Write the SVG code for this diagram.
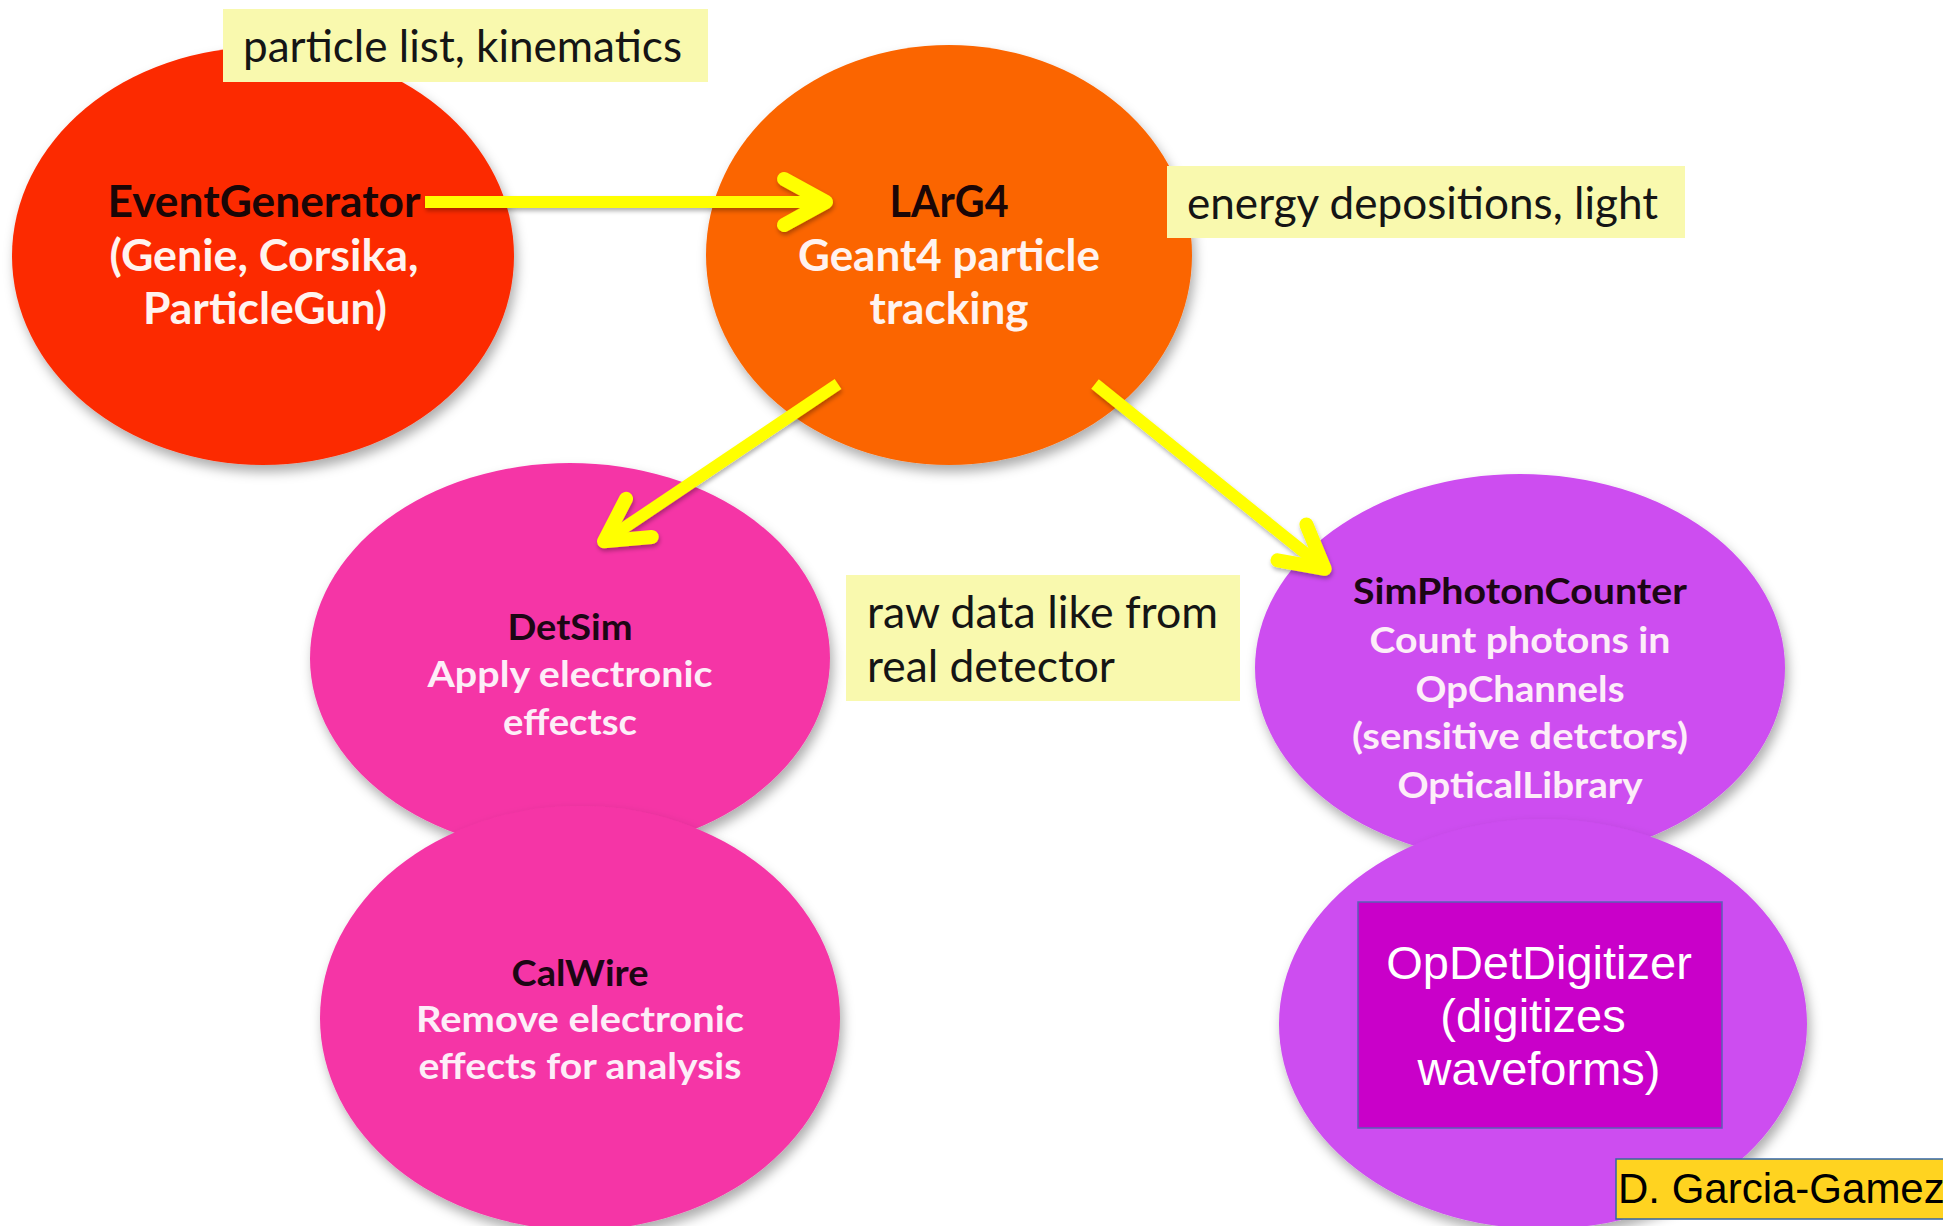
<svg xmlns="http://www.w3.org/2000/svg" width="1943" height="1226" viewBox="0 0 1943 1226">
  <defs>
    <filter id="softShadow" x="-10%" y="-10%" width="125%" height="130%">
      <feDropShadow dx="3" dy="7" stdDeviation="6" flood-color="#000" flood-opacity="0.32"/>
    </filter>
    <filter id="lineShadow" x="-10%" y="-10%" width="125%" height="130%">
      <feDropShadow dx="1" dy="3" stdDeviation="2" flood-color="#000" flood-opacity="0.3"/>
    </filter>
    <marker id="chevron" markerUnits="userSpaceOnUse" viewBox="-60 -40 80 80" refX="0" refY="0" markerWidth="80" markerHeight="80" orient="auto" overflow="visible">
      <path d="M -36 -23 L 6 0 L -36 23" fill="none" stroke="#FFFF00" stroke-width="14" stroke-linecap="round" stroke-linejoin="round"/>
    </marker>
  </defs>
  <style>
    .bubble { filter: url(#softShadow); }
    .red { fill: #FC2A02; }
    .orange { fill: #FB6503; }
    .pink { fill: #F536A6; }
    .violet { fill: #CD4DF0; }
    .note { fill: #F9F9AE; }
    .noteText { font-family: Lato, "Open Sans", sans-serif; font-size: 45px; fill: #151515; }
    .head { font-family: Lato, "Open Sans", sans-serif; font-weight: 700; font-size: 44px; fill: #1a0606; text-anchor: middle; }
    .sub { font-family: Lato, "Open Sans", sans-serif; font-weight: 700; font-size: 44px; fill: #fff3ef; text-anchor: middle; }
    .head2 { font-family: Lato, "Open Sans", sans-serif; font-weight: 700; font-size: 37px; fill: #1c0614; text-anchor: middle; }
    .sub2 { font-family: Lato, "Open Sans", sans-serif; font-weight: 700; font-size: 37px; fill: #fdeef8; text-anchor: middle; }
    .link { fill: none; stroke: #FFFF00; stroke-width: 12; stroke-linecap: butt; marker-end: url(#chevron); }
    .box { font-family: "Liberation Sans", Arial, sans-serif; }
  </style>

  <rect width="1943" height="1226" fill="#FFFFFF"/>

  <!-- process bubbles -->
  <g id="event-generator">
    <ellipse class="bubble red" cx="263" cy="256" rx="251" ry="209"/>
  </g>
  <g id="larg4">
    <ellipse class="bubble orange" cx="949" cy="255" rx="243" ry="210"/>
  </g>
  <g id="detsim">
    <ellipse class="bubble pink" cx="570" cy="658" rx="260" ry="195"/>
  </g>
  <g id="calwire">
    <ellipse class="bubble pink" cx="580" cy="1018" rx="260" ry="212"/>
  </g>
  <g id="simphotoncounter">
    <ellipse class="bubble violet" cx="1520" cy="668" rx="265" ry="194"/>
  </g>
  <g id="opdetdigitizer">
    <ellipse class="bubble violet" cx="1543" cy="1024" rx="264" ry="205"/>
    <rect x="1358" y="902" width="364" height="226" fill="#C900C9" stroke="#5B5FB5" stroke-width="1.5"/>
    <g class="box" font-size="47" fill="#FFFFFF" text-anchor="middle">
      <text x="1539" y="979">OpDetDigitizer</text>
      <text x="1533" y="1032">(digitizes</text>
      <text x="1539" y="1085">waveforms)</text>
    </g>
  </g>

  <!-- bubble captions -->
  <g id="event-generator-text">
    <text class="head" x="264" y="217" textLength="313" lengthAdjust="spacingAndGlyphs">EventGenerator</text>
    <text class="sub" x="264" y="271" textLength="309" lengthAdjust="spacingAndGlyphs">(Genie, Corsika,</text>
    <text class="sub" x="265" y="324" textLength="244" lengthAdjust="spacingAndGlyphs">ParticleGun)</text>
  </g>
  <g id="larg4-text">
    <text class="head" x="949" y="217" textLength="119" lengthAdjust="spacingAndGlyphs">LArG4</text>
    <text class="sub" x="949" y="271" textLength="302" lengthAdjust="spacingAndGlyphs">Geant4 particle</text>
    <text class="sub" x="949" y="324" textLength="159" lengthAdjust="spacingAndGlyphs">tracking</text>
  </g>
  <g id="detsim-text">
    <text class="head2" x="570" y="640" textLength="125" lengthAdjust="spacingAndGlyphs">DetSim</text>
    <text class="sub2" x="570" y="687" textLength="285" lengthAdjust="spacingAndGlyphs">Apply electronic</text>
    <text class="sub2" x="570" y="735" textLength="134" lengthAdjust="spacingAndGlyphs">effectsc</text>
  </g>
  <g id="calwire-text">
    <text class="head2" x="580" y="986" textLength="137" lengthAdjust="spacingAndGlyphs">CalWire</text>
    <text class="sub2" x="580" y="1032" textLength="328" lengthAdjust="spacingAndGlyphs">Remove electronic</text>
    <text class="sub2" x="580" y="1079" textLength="323" lengthAdjust="spacingAndGlyphs">effects for analysis</text>
  </g>
  <g id="simphotoncounter-text">
    <text class="head2" x="1520" y="604" textLength="334" lengthAdjust="spacingAndGlyphs">SimPhotonCounter</text>
    <text class="sub2" x="1520" y="653" textLength="301" lengthAdjust="spacingAndGlyphs">Count photons in</text>
    <text class="sub2" x="1520" y="702" textLength="209" lengthAdjust="spacingAndGlyphs">OpChannels</text>
    <text class="sub2" x="1520" y="749" textLength="336" lengthAdjust="spacingAndGlyphs">(sensitive detctors)</text>
    <text class="sub2" x="1520" y="798" textLength="245" lengthAdjust="spacingAndGlyphs">OpticalLibrary</text>
  </g>

  <!-- data-product notes -->
  <g id="note-kinematics">
    <rect class="note" x="223" y="9" width="485" height="73"/>
    <text class="noteText" x="243" y="62" textLength="439" lengthAdjust="spacingAndGlyphs">particle list, kinematics</text>
  </g>
  <g id="note-energy">
    <rect class="note" x="1167" y="166" width="518" height="72"/>
    <text class="noteText" x="1187" y="219" textLength="471" lengthAdjust="spacingAndGlyphs">energy depositions, light</text>
  </g>
  <g id="note-rawdata">
    <rect class="note" x="846" y="575" width="394" height="126"/>
    <text class="noteText" x="867" y="628" textLength="351" lengthAdjust="spacingAndGlyphs">raw data like from</text>
    <text class="noteText" x="867" y="682" textLength="248" lengthAdjust="spacingAndGlyphs">real detector</text>
  </g>

  <!-- connectors -->
  <g id="connectors" filter="url(#lineShadow)">
    <path class="link" d="M 425 202 L 820 202"/>
    <path class="link" d="M 838 384 L 609 538"/>
    <path class="link" d="M 1095 384 L 1320 565"/>
  </g>

  <!-- credit -->
  <g id="credit">
    <rect x="1616" y="1159" width="340" height="60" fill="#FFD320" stroke="#3465A4" stroke-width="1.5"/>
    <text class="box" x="1618" y="1203" font-size="42" fill="#000000">D. Garcia-Gamez</text>
  </g>
</svg>
